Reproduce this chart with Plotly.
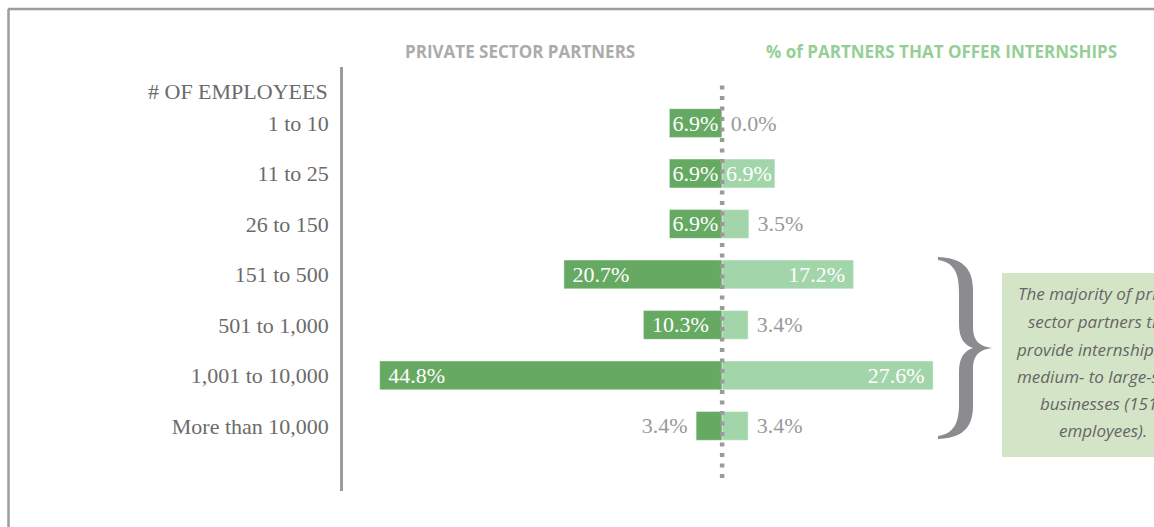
import plotly.graph_objects as go

# ---------------- data ----------------
categories = ["1 to 10", "11 to 25", "26 to 150", "151 to 500",
              "501 to 1,000", "1,001 to 10,000", "More than 10,000"]
partners_pct = [6.9, 6.9, 6.9, 20.7, 10.3, 44.8, 3.4]
internship_pct = [0.0, 6.9, 3.5, 17.2, 3.4, 27.6, 3.4]
left_header = "PRIVATE SECTOR PARTNERS"
right_header = "% of PARTNERS THAT OFFER INTERNSHIPS"
axis_title = "# OF EMPLOYEES"
note_lines = ["The majority of private", "sector partners that",
              "provide internships are", "medium- to large-sized",
              "businesses (151+", "employees)."]

# ---------------- style ----------------
W, H = 1154, 527
ML, MR, MT, MB = 343, 0, 67, 36
DARK = "#66a962"
LIGHT = "#a3d5aa"
GREY_TXT = "#9a9a9a"
CAT_TXT = "#6b6b6b"
SERIF = "Liberation Serif, Times New Roman, serif"
SANS = "Open Sans, Lato, sans-serif"
NB = "\u00a0"

pw, ph = W - ML - MR, H - MT - MB


def px(x):
    return (x - ML) / pw


def py(y):
    return (H - MB - y) / ph


left_pos = ["inside" if v >= 6 else "outside" for v in partners_pct]
right_pos = ["inside" if v >= 6 else "outside" for v in internship_pct]


def left_label(v, pos):
    s = f"{v:.1f}%"
    if pos == "outside":
        return s + NB
    return (NB + s) if v >= 10 else s


def right_label(v, pos):
    s = f"{v:.1f}%"
    if pos == "outside":
        return NB + s
    return (s + NB) if v >= 10 else s


fig = go.Figure()
fig.add_trace(go.Bar(
    y=categories, x=[-v for v in partners_pct], orientation="h",
    marker=dict(color=DARK, line=dict(color="rgba(255,255,255,0.5)", width=0.8)),
    width=0.57, text=[left_label(v, p) for v, p in zip(partners_pct, left_pos)],
    textposition=left_pos, insidetextanchor="end", constraintext="none",
    insidetextfont=dict(family=SERIF, size=22, color="white"),
    outsidetextfont=dict(family=SERIF, size=22, color=GREY_TXT),
    hoverinfo="skip", showlegend=False, cliponaxis=False,
))
fig.add_trace(go.Bar(
    y=categories, x=internship_pct, orientation="h",
    marker=dict(color=LIGHT, line=dict(color="rgba(255,255,255,0.5)", width=0.8)),
    width=0.57, text=[right_label(v, p) for v, p in zip(internship_pct, right_pos)],
    textposition=right_pos, insidetextanchor="end", constraintext="none",
    insidetextfont=dict(family=SERIF, size=22, color="white"),
    outsidetextfont=dict(family=SERIF, size=22, color=GREY_TXT),
    hoverinfo="skip", showlegend=False, cliponaxis=False,
))

shapes = []
# dotted centre line
shapes.append(dict(type="line", xref="x", yref="paper", x0=0, x1=0,
                   y0=py(478), y1=py(80), layer="above",
                   line=dict(color="#9a9a9a", width=4.5, dash="4px,6.5px")))
# frame lines
shapes.append(dict(type="line", xref="paper", yref="paper",
                   x0=px(8), x1=px(1170), y0=py(9), y1=py(9),
                   line=dict(color="#9c9c9c", width=2.5)))
shapes.append(dict(type="line", xref="paper", yref="paper",
                   x0=px(8.5), x1=px(8.5), y0=py(9), y1=py(540),
                   line=dict(color="#9c9c9c", width=2.5)))
# note box
shapes.append(dict(type="rect", xref="paper", yref="paper",
                   x0=px(1002), x1=px(1210), y0=py(457), y1=py(273),
                   fillcolor="#d4e4c6", line=dict(width=0), layer="below"))


# brace path
def pt(x, y):
    return f"{px(x):.5f},{py(y):.5f}"


brace = (
    "M " + pt(938, 257)
    + " C " + pt(960, 258) + " " + pt(973, 266) + " " + pt(973, 290)
    + " L " + pt(973, 326)
    + " C " + pt(973, 340) + " " + pt(978, 346) + " " + pt(992, 348)
    + " C " + pt(978, 350) + " " + pt(973, 356) + " " + pt(973, 370)
    + " L " + pt(973, 406)
    + " C " + pt(973, 430) + " " + pt(960, 438) + " " + pt(938, 439)
    + " L " + pt(938, 436)
    + " C " + pt(953, 434) + " " + pt(959, 424) + " " + pt(959, 404)
    + " L " + pt(959, 372)
    + " C " + pt(959, 358) + " " + pt(964, 351) + " " + pt(973, 348)
    + " C " + pt(964, 345) + " " + pt(959, 338) + " " + pt(959, 324)
    + " L " + pt(959, 292)
    + " C " + pt(959, 272) + " " + pt(953, 262) + " " + pt(938, 260)
    + " Z"
)
shapes.append(dict(type="path", xref="paper", yref="paper", path=brace,
                   fillcolor="#8c8c90", line=dict(width=0)))

annotations = [
    dict(text=f"<b>{left_header}</b>", xref="paper", yref="paper",
         x=px(520), y=py(52), xanchor="center", yanchor="middle", showarrow=False,
         font=dict(family=SANS, size=17, color="#ababab")),
    dict(text=f"<b>{right_header}</b>", xref="paper", yref="paper",
         x=px(941), y=py(52), xanchor="center", yanchor="middle", showarrow=False,
         font=dict(family=SANS, size=17, color="#95cf95")),
    dict(text=axis_title, xref="paper", yref="paper",
         x=px(330), y=py(91), xanchor="right", yanchor="middle", showarrow=False,
         font=dict(family=SERIF, size=22, color=CAT_TXT)),
]
note_y = [293, 321, 349, 376, 403, 430]
for line, yy in zip(note_lines, note_y):
    annotations.append(dict(text=f"<i>{line}</i>", xref="paper", yref="paper",
                            x=px(1103), y=py(yy), xanchor="center", yanchor="middle",
                            showarrow=False,
                            font=dict(family=SANS, size=17, color="#666666")))

fig.update_layout(
    width=W, height=H, autosize=False,
    margin=dict(l=ML, r=MR, t=MT, b=MB, pad=0),
    paper_bgcolor="white", plot_bgcolor="white",
    barmode="overlay", showlegend=False,
    shapes=shapes, annotations=annotations,
    xaxis=dict(range=[-49.6, 56.5], visible=False, fixedrange=True),
    yaxis=dict(type="category", categoryorder="array", categoryarray=categories,
               range=[7.29, -1.11], showgrid=False, zeroline=False,
               showline=True, linecolor="#9c9c9c", linewidth=2.5,
               ticks="outside", ticklen=7, tickcolor="rgba(0,0,0,0)",
               tickfont=dict(family=SERIF, size=22, color=CAT_TXT),
               fixedrange=True),
)

fig.write_html(
    "out.html",
    config={"displayModeBar": False},
    post_script="document.body.style.margin='0';document.body.style.overflow='hidden';",
)
